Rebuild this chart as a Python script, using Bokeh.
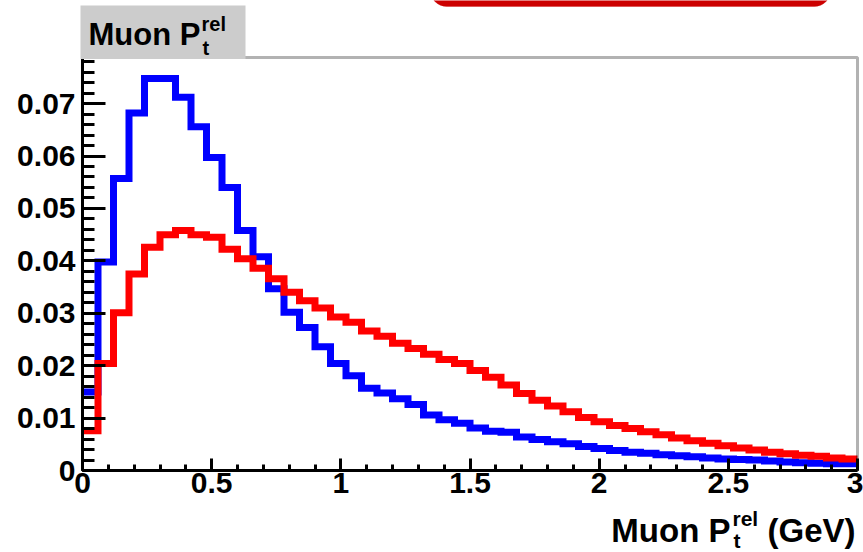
from bokeh.plotting import figure
from bokeh.models import Range1d, FixedTicker, BoxAnnotation, Label
from bokeh.embed import file_html
from bokeh.resources import INLINE

# ---- data ----
n_bins = 50
x_min, x_max = 0.0, 3.0
bin_width = (x_max - x_min) / n_bins
bin_edges = [round(x_min + i * bin_width, 4) for i in range(n_bins + 1)]

blue_values = [0.0150, 0.0398, 0.0557, 0.0682, 0.0748, 0.0748, 0.0712, 0.0656, 0.0597, 0.0540,
               0.0458, 0.0408, 0.0347, 0.0302, 0.0273, 0.0236, 0.0204, 0.0181, 0.0157, 0.0148,
               0.0137, 0.0126, 0.0106, 0.0097, 0.0090, 0.0081, 0.0075, 0.0073, 0.0064, 0.0059,
               0.0055, 0.0051, 0.0046, 0.0042, 0.0038, 0.0035, 0.0033, 0.0030, 0.0028, 0.0026,
               0.0024, 0.0022, 0.0021, 0.0020, 0.0018, 0.0016, 0.0015, 0.0014, 0.0013, 0.0013]

red_values = [0.0076, 0.0204, 0.0301, 0.0375, 0.0426, 0.0450, 0.0458, 0.0450, 0.0445, 0.0422,
              0.0404, 0.0386, 0.0366, 0.0340, 0.0324, 0.0310, 0.0293, 0.0283, 0.0266, 0.0256,
              0.0243, 0.0233, 0.0222, 0.0212, 0.0204, 0.0191, 0.0178, 0.0163, 0.0147, 0.0134,
              0.0123, 0.0112, 0.0101, 0.0093, 0.0086, 0.0080, 0.0074, 0.0068, 0.0062, 0.0057,
              0.0052, 0.0047, 0.0043, 0.0039, 0.0035, 0.0032, 0.0029, 0.0027, 0.0024, 0.0022]

x_ticks = [0, 0.5, 1, 1.5, 2, 2.5, 3]
x_tick_labels = ["0", "0.5", "1", "1.5", "2", "2.5", "3"]
x_minor_ticks = [round(i * 0.1, 2) for i in range(31)]

y_ticks = [0, 0.01, 0.02, 0.03, 0.04, 0.05, 0.06, 0.07]
y_tick_labels = ["0", "0.01", "0.02", "0.03", "0.04", "0.05", "0.06", "0.07"]
y_minor_ticks = [round(i * 0.002, 3) for i in range(40)]

y_max = 0.0788

title_main = "Muon P"
title_sup = "rel"
title_sub = "t"
x_title_main = "Muon P"
x_title_unit = "(GeV)"

FONT = "Liberation Sans"

# ---- layout (pixels) ----
W, H = 863, 552
frame_left, frame_right = 82, 857
frame_top, frame_bottom = 57, 470

# the plotting frame fills the whole canvas; data area mapped to the ROOT frame
xs = (frame_right - frame_left) / (x_max - x_min)
ys = (frame_bottom - frame_top) / y_max
x_range = Range1d(x_min - frame_left / xs, x_max + (W - frame_right) / xs)
y_range = Range1d(-(H - frame_bottom) / ys, y_max + frame_top / ys)

p = figure(width=W, height=H, output_backend="svg", toolbar_location=None,
           x_range=x_range, y_range=y_range,
           min_border_left=0, min_border_right=0, min_border_top=0, min_border_bottom=0)
p.title.visible = False
p.background_fill_color = "white"
p.border_fill_color = "white"
p.xgrid.visible = False
p.ygrid.visible = False
p.outline_line_color = None

for ax in (p.xaxis[0], p.yaxis[0]):
    ax.fixed_location = 0
    ax.axis_line_width = 3
    ax.axis_line_color = "black"
    ax.major_tick_line_width = 3
    ax.minor_tick_line_width = 3
    ax.major_tick_line_color = "black"
    ax.minor_tick_line_color = "black"
    ax.major_tick_out = 0
    ax.minor_tick_out = 0
    ax.major_label_text_font = FONT
    ax.major_label_text_font_style = "bold"
    ax.major_label_text_font_size = "30px"
    ax.major_label_text_color = "black"

xa = p.xaxis[0]
xa.bounds = (x_min, x_max)
xa.ticker = FixedTicker(ticks=x_ticks, minor_ticks=x_minor_ticks)
xa.major_label_overrides = {t: l for t, l in zip(x_ticks, x_tick_labels)}
xa.major_tick_in = 12
xa.minor_tick_in = 6
xa.major_label_standoff = 2

ya = p.yaxis[0]
ya.bounds = (0, y_max)
ya.ticker = FixedTicker(ticks=y_ticks, minor_ticks=y_minor_ticks)
ya.major_label_overrides = {t: l for t, l in zip(y_ticks, y_tick_labels)}
ya.major_tick_in = 23
ya.minor_tick_in = 12
ya.major_label_standoff = 7

# histograms (step outlines)
blue_y = blue_values + [blue_values[-1]]
red_y = red_values + [red_values[-1]]
p.step(bin_edges, blue_y, mode="after", line_color="#0000ff", line_width=7, line_join="miter")
p.step(bin_edges, red_y, mode="after", line_color="#ff0000", line_width=7, line_join="miter")

# ROOT frame around the data area
p.add_layout(BoxAnnotation(left=x_min, right=x_max, bottom=0, top=y_max,
                           fill_alpha=0, line_color="black", line_width=3))

# red rounded shape cut at the top of the page
p.add_layout(BoxAnnotation(left=430, right=830, bottom=H - 6, top=H + 30,
                           left_units="screen", right_units="screen",
                           bottom_units="screen", top_units="screen",
                           fill_color="#cc0000", fill_alpha=1.0,
                           line_color="#cc0000", line_width=1,
                           border_radius=16))

# title box
p.add_layout(BoxAnnotation(left=80, right=245, bottom=H - 58.5, top=H - 5,
                           left_units="screen", right_units="screen",
                           bottom_units="screen", top_units="screen",
                           fill_color="#cccccc", fill_alpha=1.0, line_color=None))

def add_text(x, baseline_from_top, text, size_px, align="left"):
    # Bokeh draws the glyphs about 0.32 em below the requested alphabetic position
    y = H - baseline_from_top + 0.32 * size_px
    p.add_layout(Label(x=x, y=y, x_units="screen", y_units="screen", text=text,
                       text_font=FONT, text_font_style="bold", text_font_size=f"{size_px}px",
                       text_color="black", text_align=align, text_baseline="alphabetic"))

add_text(88, 44, title_main, 31)
add_text(201, 30, title_sup, 20)
add_text(202, 54, title_sub, 20)

add_text(855, 541, x_title_unit, 33, "right")
add_text(732, 525, title_sup, 21)
add_text(733, 547, title_sub, 21)
add_text(730, 541, x_title_main, 33, "right")

open("out.html", "w").write(file_html(p, INLINE))
